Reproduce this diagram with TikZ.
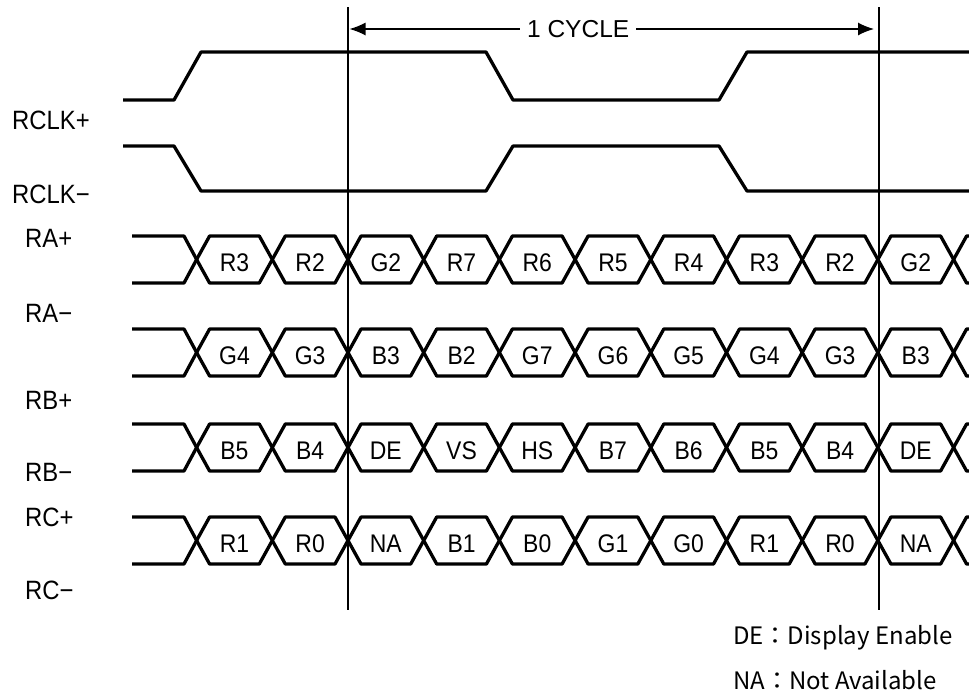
\documentclass[tikz,border=0pt]{standalone}
\usepackage{fontspec}
\setmainfont{Liberation Sans}
\newfontfamily\narrowsans[FakeStretch=0.9]{Liberation Sans}
\newfontfamily\jpfont{Noto Sans CJK JP}
\usetikzlibrary{positioning}
\usetikzlibrary{arrows.meta}

\tikzset{
wave/.style={line width=3.3pt,line join=bevel},
mark line/.style={line width=2.4pt},
signame/.style={anchor=west,inner sep=0pt,font=\narrowsans\fontsize{26.5}{30}\selectfont},
bitcell/.style={inner sep=0pt,font=\narrowsans\fontsize{25.5}{30}\selectfont},
note/.style={anchor=base west,inner sep=0pt,font=\jpfont\fontsize{24}{28}\selectfont}
}

\begin{document}
\begin{tikzpicture}[x=1pt,y=-1pt]
\clip(0,0)rectangle(969,697);

% clock pair
\draw[wave](123,100)--(174,100)--(201,52)--(486,52)--(513,100)--(719,100)--(747,52)--(975,52);
\draw[wave](123,146)--(174,146)--(201,191)--(486,191)--(513,146)--(719,146)--(747,191)--(975,191);

% signal names
\node[signame](CKP)at(12,120.5){RCLK+};
\node[signame](CKN)at(12,194){RCLK−};
\node[signame](RAP)at(25,238){RA+};
\node[signame](RAN)at(25,313){RA−};
\node[signame](RBP)at(25,400){RB+};
\node[signame](RBN)at(25,472){RB−};
\node[signame](RCP)at(25,517){RC+};
\node[signame](RCN)at(25,590){RC−};

% data lanes
\foreach \lane/\top/\bits in {
 LA/236/{R3,R2,G2,R7,R6,R5,R4,R3,R2,G2},
 LB/329/{G4,G3,B3,B2,G7,G6,G5,G4,G3,B3},
 LC/424/{B5,B4,DE,VS,HS,B7,B6,B5,B4,DE},
 LD/517/{R1,R0,NA,B1,B0,G1,G0,R1,R0,NA}}{
\draw[wave](132,\top)--(184,\top)--(196.6,\top+23.5)--(184,\top+47)--(132,\top+47);
\draw[wave](975,\top)--(966.6,\top)--(953.6,\top+23.5)--(966.6,\top+47)--(975,\top+47);
\foreach \bit[count=\i] in \bits{
\pgfmathsetmacro\xl{348+(\i-3)*75.7}
\pgfmathsetmacro\xr{\xl+75.7}
\draw[wave](\xl,\top+23.5)--(\xl+13,\top)--(\xr-13,\top)--(\xr,\top+23.5)
--(\xr-13,\top+47)--(\xl+13,\top+47)--cycle;
\node[bitcell](\lane\i)at({(\xl+\xr)/2},\top+26.5){\bit};
}
}

% cycle markers
\coordinate(V1T)at(348,7);
\coordinate(V1B)at(348,610);
\coordinate(V2T)at(879,7);
\coordinate(V2B)at(879,610);
\draw[mark line](V1T)--(V1B);
\draw[mark line](V2T)--(V2B);
\coordinate(AL)at(349.5,29);
\coordinate(AR)at(874,29);
\draw[line width=1.3pt,{Latex[length=16pt,width=13pt]}-{Latex[length=16pt,width=13pt]}](AL)--
node[pos=0.436,fill=white,inner sep=7pt,font=\fontsize{24.5}{28}\selectfont](CYC){1 CYCLE}(AR);

% legend
\node[note](DEN)at(733,644){DE：Display Enable};
\node[note](NAN)at(733,689){NA：Not Available};
\end{tikzpicture}
\end{document}
